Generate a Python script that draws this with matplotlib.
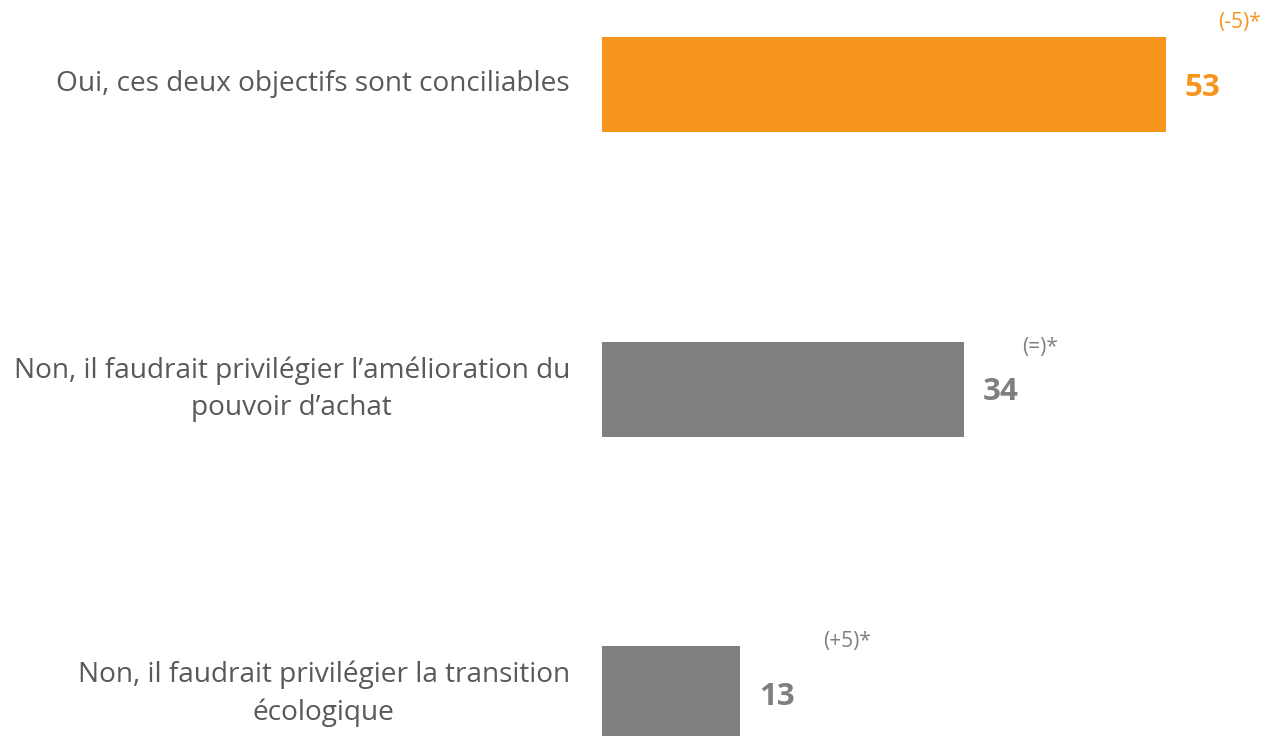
import matplotlib.pyplot as plt

plt.rcParams['font.family'] = ['Open Sans', 'DejaVu Sans']

# données
categories = [
    "Oui, ces deux objectifs sont conciliables",
    "Non, il faudrait privilégier l\u2019amélioration du\npouvoir d\u2019achat",
    "Non, il faudrait privilégier la transition\nécologique",
]
values = [53, 34, 13]
changes = ["(-5)*", "(=)*", "(+5)*"]

# style
bar_colors = ["#F7941D", "#7F7F7F", "#7F7F7F"]
text_colors = ["#F7941D", "#7F7F7F", "#7F7F7F"]
chg_dx = [4.9, 5.5, 7.8]      # décalage horizontal des variations
chg_dy = [-0.205, -0.138, -0.171]

fig = plt.figure(figsize=(12.74, 7.36), dpi=100)
ax = fig.add_axes([602 / 1274, 0, 672 / 1274, 1])

y = list(range(len(values)))
ax.barh(y, values, height=0.312, color=bar_colors)

ax.set_xlim(0, 672 / 10.64)
ax.set_ylim(2 + 42 / 304.75, -84.5 / 304.75)
ax.axis("off")

for i, v in enumerate(values):
    ax.text(v + 1.75, i + 0.01, str(v), ha="left", va="center",
            fontsize=22.5, fontweight="bold", color=text_colors[i])
    ax.text(v + chg_dx[i], i + chg_dy[i], changes[i], ha="left", va="center",
            fontsize=15, color=text_colors[i])
    ax.annotate(categories[i], xy=(0, i), xycoords="data",
                xytext=(-32 * 72 / 100, 0), textcoords="offset points",
                ha="right", va="center", multialignment="center",
                fontsize=20.2, color="#595959", linespacing=1.42,
                annotation_clip=False)

fig.savefig("out.png", dpi=100)
